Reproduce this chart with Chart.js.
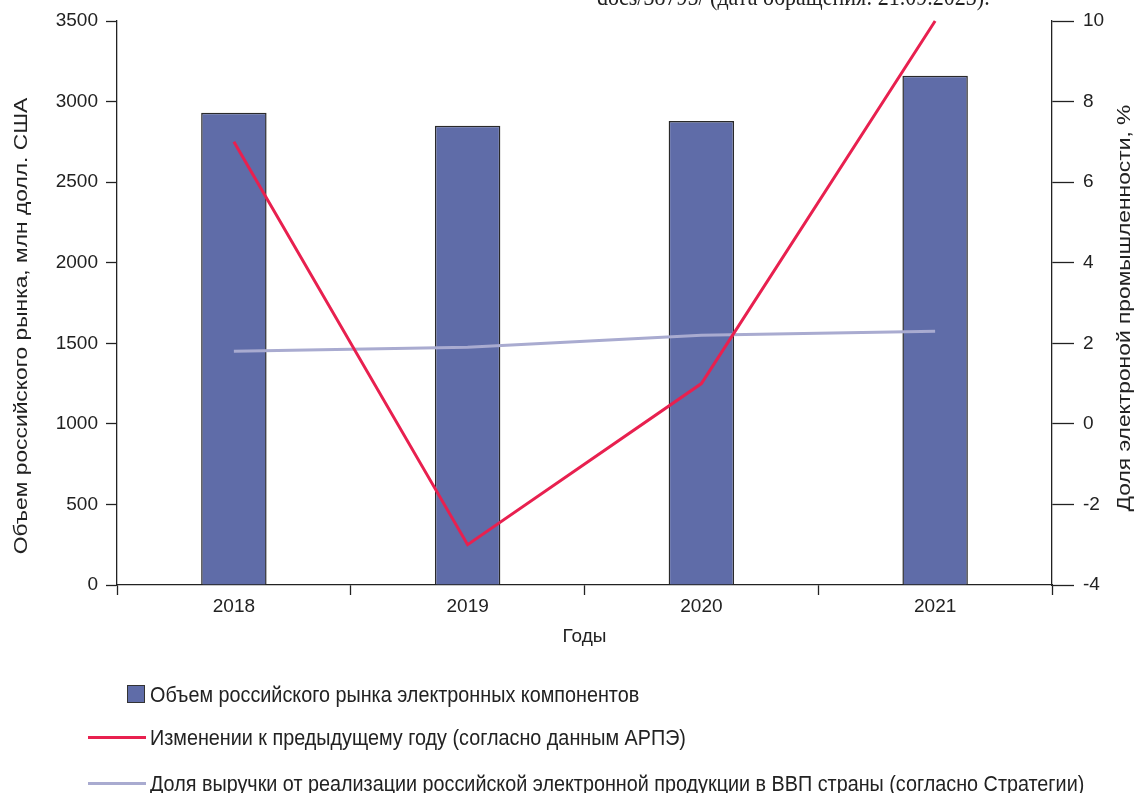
<!DOCTYPE html>
<html>
<head>
<meta charset="utf-8">
<script src="https://cdn.jsdelivr.net/npm/chart.js@4.4.0/dist/chart.umd.min.js"></script>
<style>
  body { margin: 0; background: #fff; }
  #wrap { position: relative; width: 1137px; height: 793px; overflow: hidden; font-family: "Liberation Sans", Arial, sans-serif; color: #222; }
  #chart { position: absolute; left: 0; top: 0; }
  #note { position: absolute; left: 597px; top: -12px; font: 22px/22px "Liberation Serif", "Times New Roman", serif; color: #222; white-space: nowrap; transform: scaleY(1.15); transform-origin: left bottom; }
  .leg { position: absolute; font-size: 19.8px; line-height: 20px; white-space: nowrap; transform: scaleY(1.12); transform-origin: left center; }
  .sw { position: absolute; }
</style>
</head>
<body>
<div id="wrap">
  <canvas id="chart" width="1137" height="793"></canvas>
  <div id="note">docs/38795/ (дата обращения: 21.09.2023).</div>
  <div id="legend"></div>
</div>
<script>
// данные графика
const years = ['2018', '2019', '2020', '2021'];
const marketVolume = [2930, 2850, 2880, 3160];      // млн долл. США
const changeAPRE = [7, -3, 1, 10];                  // %
const shareStrategy = [1.8, 1.9, 2.2, 2.3];         // %
const leftTicks = [0, 500, 1000, 1500, 2000, 2500, 3000, 3500];
const rightTicks = [-4, -2, 0, 2, 4, 6, 8, 10];

const labels = [
  'Объем российского рынка электронных компонентов',
  'Изменении к предыдущему году (согласно данным АРПЭ)',
  'Доля выручки от реализации российской электронной продукции в ВВП страны (согласно Стратегии)'
];
const leftTitle = 'Объем российского рынка, млн долл. США';
const rightTitle = 'Доля электроной промышленности, %';

const barColor = '#5f6ca8';
const redColor = '#e8204f';
const lilacColor = '#a9abd0';
const axisColor = '#222';

const fontFamily = '"Liberation Sans", Arial, sans-serif';
const font = { family: fontFamily, size: 19 };

// подписи осей Y рисуем сами: обе читаются снизу вверх, текст немного вытянут
const axisTitles = {
  id: 'axisTitles',
  afterDraw(chart) {
    const c = chart.ctx;
    const put = (text, x, y) => {
      c.save();
      c.translate(x, y);
      c.rotate(-Math.PI / 2);
      c.scale(1.2, 1);
      c.font = '19px ' + fontFamily;
      c.fillStyle = axisColor;
      c.textAlign = 'center';
      c.textBaseline = 'middle';
      c.fillText(text, 0, 0);
      c.restore();
    };
    put(leftTitle, 22, 326);
    put(rightTitle, 1125, 308);
  }
};

const ctx = document.getElementById('chart').getContext('2d');
const chart = new Chart(ctx, {
  type: 'bar',
  data: {
    labels: years,
    datasets: [
      {
        type: 'line',
        label: labels[1],
        data: changeAPRE,
        yAxisID: 'y1',
        borderColor: redColor,
        borderWidth: 3,
        pointRadius: 0,
        clip: false,
        order: 1
      },
      {
        type: 'line',
        label: labels[2],
        data: shareStrategy,
        yAxisID: 'y1',
        borderColor: lilacColor,
        borderWidth: 3,
        pointRadius: 0,
        order: 1
      },
      {
        label: labels[0],
        data: marketVolume,
        yAxisID: 'y',
        backgroundColor: barColor,
        borderColor: '#2a2a2a',
        borderWidth: 1.5,
        categoryPercentage: 1,
        barPercentage: 0.28,
        order: 2
      }
    ]
  },
  options: {
    responsive: false,
    animation: false,
    layout: { padding: { top: 21, bottom: 133, left: 0, right: 0 } },
    plugins: { legend: { display: false }, tooltip: { enabled: false } },
    scales: {
      x: {
        offset: true,
        grid: { offset: true, drawOnChartArea: false, tickLength: 10, tickColor: axisColor, tickWidth: 1.3 },
        border: { color: axisColor, width: 1.3 },
        ticks: { color: axisColor, font: font, padding: 0 },
        title: { display: true, text: 'Годы', color: axisColor, font: font, padding: { top: 0, bottom: 12 } },
        afterFit: (scale) => { scale.height = 75; }
      },
      y: {
        position: 'left',
        min: 0,
        max: 3500,
        afterBuildTicks: (scale) => { scale.ticks = leftTicks.map(v => ({ value: v })); },
        grid: { drawOnChartArea: false, tickLength: 11, tickColor: axisColor, tickWidth: 1.3 },
        border: { color: axisColor, width: 1.3 },
        ticks: { color: axisColor, font: font, padding: 8, callback: (v) => String(v) },
        afterFit: (scale) => { scale.width = 117; }
      },
      y1: {
        position: 'right',
        min: -4,
        max: 10,
        afterBuildTicks: (scale) => { scale.ticks = rightTicks.map(v => ({ value: v })); },
        grid: { drawOnChartArea: false, tickLength: 22, tickColor: axisColor, tickWidth: 1.3 },
        border: { color: axisColor, width: 1.3 },
        ticks: { color: axisColor, font: font, padding: 9, callback: (v) => String(v) },
        afterFit: (scale) => { scale.width = 85; }
      }
    }
  },
  plugins: [axisTitles]
});

// легенда снизу, как в оригинале - три строки
const legend = document.getElementById('legend');
legend.innerHTML = `
  <div class="sw" style="left:127px;top:685px;width:16px;height:16px;background:${barColor};border:1px solid #333;"></div>
  <div class="leg" style="left:150px;top:684px;">${labels[0]}</div>
  <div class="sw" style="left:88px;top:736px;width:58px;height:3px;background:${redColor};"></div>
  <div class="leg" style="left:150px;top:727px;">${labels[1]}</div>
  <div class="sw" style="left:88px;top:782px;width:58px;height:3px;background:${lilacColor};"></div>
  <div class="leg" style="left:150px;top:773px;">${labels[2]}</div>
`;
</script>
</body>
</html>
